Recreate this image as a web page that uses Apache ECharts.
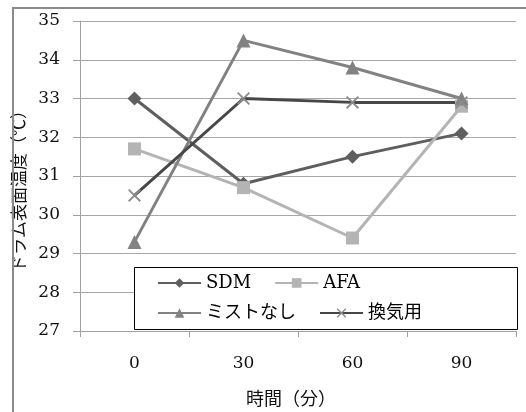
<!DOCTYPE html>
<html>
<head>
<meta charset="utf-8">
<script src="https://cdn.jsdelivr.net/npm/echarts@6/dist/echarts.min.js"></script>
<style>
  html, body { margin: 0; padding: 0; background: #fff; }
  #chart { width: 526px; height: 412px; }
</style>
</head>
<body>
<div id="chart"></div>
<script>
// Drum surface temperature over time for four conditions
const times = ['0', '30', '60', '90'];
const sdm = [33.0, 30.8, 31.5, 32.1];
const afa = [31.7, 30.7, 29.4, 32.8];
const noMist = [29.3, 34.5, 33.8, 33.0];
const vent = [30.5, 33.0, 32.9, 32.9];
const yTicks = { min: 27, max: 35, step: 1 };

const serif = '"DejaVu Serif", "Liberation Serif", serif';
const jp = '"Noto Sans CJK JP", sans-serif';
const crossPath = 'path://M0,1L1,0L10,9L9,10Z M9,0L10,1L1,10L0,9Z';

const chart = echarts.init(document.getElementById('chart'));

function lineSeries(name, data, color, symbol, size, markColor) {
  return {
    name: name,
    type: 'line',
    data: data,
    symbol: symbol,
    symbolSize: size,
    lineStyle: { color: color, width: 3 },
    itemStyle: { color: markColor || color },
    emphasis: { disabled: true },
    animation: false
  };
}

const legendText = {
  fontFamily: serif + ', ' + jp,
  fontSize: 18,
  color: '#000',
  width: 120
};

chart.setOption({
  animation: false,
  grid: { left: 80, right: 10, top: 21, bottom: 77 },
  xAxis: {
    type: 'category',
    data: times,
    boundaryGap: true,
    axisLine: { lineStyle: { color: '#a0a0a0', width: 1 } },
    axisTick: { show: true, length: 6, lineStyle: { color: '#a0a0a0' } },
    axisLabel: { margin: 24, fontFamily: serif, fontSize: 17, color: '#111' },
    name: '時間（分）',
    nameLocation: 'middle',
    nameGap: 58,
    nameTextStyle: { fontFamily: jp, fontSize: 18, color: '#111', padding: [0, 14, 0, 0] }
  },
  yAxis: {
    type: 'value',
    min: yTicks.min,
    max: yTicks.max,
    interval: yTicks.step,
    axisLine: { show: true, lineStyle: { color: '#a0a0a0', width: 1 } },
    axisTick: { show: true, length: 7, lineStyle: { color: '#a0a0a0' } },
    splitLine: { lineStyle: { color: '#a8a8a8', width: 1 } },
    axisLabel: { margin: 20, fontFamily: serif, fontSize: 17, color: '#111' },
    name: 'ドラム表面温度（℃）',
    nameLocation: 'middle',
    nameRotate: 90,
    nameGap: 47,
    nameTextStyle: { fontFamily: jp, fontSize: 17, color: '#111', padding: [0, 22, 0, 0] }
  },
  legend: [
    {
      data: ['SDM', 'AFA'],
      left: 157, top: 274,
      itemWidth: 43, itemHeight: 12, itemGap: 23,
      padding: 0,
      textStyle: legendText,
      z: 10
    },
    {
      data: ['ミストなし', '換気用'],
      left: 157, top: 304,
      itemWidth: 43, itemHeight: 12, itemGap: 23,
      padding: 0,
      textStyle: legendText,
      z: 10
    }
  ],
  graphic: [
    {
      type: 'rect',
      z: 8,
      shape: { x: 134.5, y: 267.5, width: 383, height: 62 },
      style: { fill: '#fff', stroke: '#000', lineWidth: 1 }
    },
    {
      type: 'rect',
      z: 8,
      shape: { x: 13, y: 8, width: 600, height: 500 },
      style: { fill: 'none', stroke: '#8a8a8a', lineWidth: 2 }
    }
  ],
  series: [
    lineSeries('SDM', sdm, '#5e5e5e', 'diamond', 14),
    lineSeries('AFA', afa, '#b4b4b4', 'rect', 13),
    lineSeries('ミストなし', noMist, '#828282', 'triangle', 14),
    lineSeries('換気用', vent, '#474747', crossPath, 13, '#8c8c8c')
  ]
});
</script>
</body>
</html>
